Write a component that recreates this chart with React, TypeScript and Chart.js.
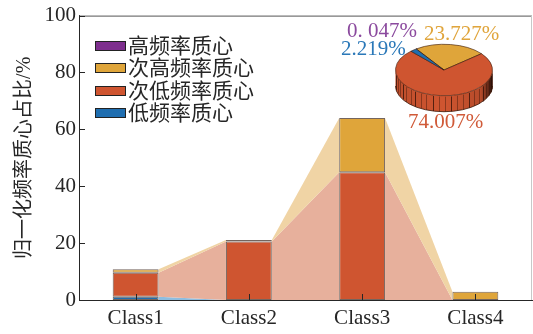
import React, { useEffect, useRef } from 'react';
import { Chart, registerables } from 'chart.js';

Chart.register(...registerables);

// Normalised centroid share per class, one array per frequency band (%)
const categories = ['Class1', 'Class2', 'Class3', 'Class4'];
const lowBand = [1.1, 0, 0, 0];
const subLowBand = [8.5, 20.6, 44.9, 0];
const subHighBand = [1.2, 0.5, 19.1, 2.9];
const highBand = [0.03, 0.01, 0.005, 0.002];
const bandNames = ['低频率质心', '次低频率质心', '次高频率质心', '高频率质心'];
const yTickValues = [0, 20, 40, 60, 80, 100];

// Overall share of each band (inset pie)
const pieNames = ['高频率质心', '次高频率质心', '次低频率质心', '低频率质心'];
const pieShares = [0.047, 23.727, 74.007, 2.219];
const pieTexts = ['0. 047%', '23.727%', '74.007%', '2.219%'];

const FONT = '"Liberation Serif", "Noto Sans CJK SC", serif';
const INK = '#262626';
const barColors = ['#1F6EB0', '#CF5530', '#DFA53A', '#7E2F8E'];
const bridgeColors = ['#8DBDE0', '#E7B09C', '#F0D4A5', '#C9A6D0'];
const pieColors = ['#7E2F8E', '#DFA53A', '#CF5530', '#1F6EB0'];
const pieTextColors = ['#8B4A9E', '#E0A53C', '#D05A38', '#2A78B8'];

const SQUASH = 0.53;
const DEPTH = 16;

// Shaded bands joining the same stack level of neighbouring bars
const bridgePlugin = {
  id: 'bridges',
  beforeDatasetsDraw(chart: any) {
    const ctx = chart.ctx;
    ctx.save();
    chart.data.datasets.forEach((_ds: any, di: number) => {
      const els = chart.getDatasetMeta(di).data;
      for (let i = 0; i < els.length - 1; i++) {
        const a = els[i].getProps(['x', 'y', 'base', 'width'], true);
        const b = els[i + 1].getProps(['x', 'y', 'base', 'width'], true);
        if (Math.abs(a.base - a.y) < 0.2 && Math.abs(b.base - b.y) < 0.2) continue;
        const ax = a.x + a.width / 2;
        const bx = b.x - b.width / 2;
        ctx.beginPath();
        ctx.moveTo(ax, a.y);
        ctx.lineTo(bx, b.y);
        ctx.lineTo(bx, b.base);
        ctx.lineTo(ax, a.base);
        ctx.closePath();
        ctx.fillStyle = bridgeColors[di];
        ctx.fill();
      }
    });
    ctx.restore();
  },
};

// Top/right box edges and inward tick marks
const framePlugin = {
  id: 'frame',
  afterDatasetsDraw(chart: any) {
    const { ctx, chartArea, scales } = chart;
    const { left, right, top, bottom } = chartArea;
    ctx.save();
    ctx.lineWidth = 1;
    ctx.strokeStyle = '#555555';
    ctx.beginPath();
    ctx.moveTo(left, top + 0.5);
    ctx.lineTo(right, top + 0.5);
    ctx.stroke();
    ctx.strokeStyle = '#c8c8c8';
    ctx.beginPath();
    ctx.moveTo(right - 0.5, top);
    ctx.lineTo(right - 0.5, bottom);
    ctx.stroke();
    ctx.strokeStyle = INK;
    ctx.beginPath();
    scales.x.ticks.forEach((_t: any, i: number) => {
      const px = Math.round(scales.x.getPixelForTick(i)) + 0.5;
      ctx.moveTo(px, bottom);
      ctx.lineTo(px, bottom - 6);
    });
    scales.y.ticks.forEach((t: any) => {
      const py = Math.round(scales.y.getPixelForValue(t.value)) + 0.5;
      ctx.moveTo(left, py);
      ctx.lineTo(left + 6, py);
    });
    ctx.stroke();
    ctx.restore();
  },
};

// Legend boxed inside the plot, highest band first
const insetLegendPlugin = {
  id: 'insetLegend',
  afterDraw(chart: any) {
    const { ctx, chartArea } = chart;
    const ds = chart.data.datasets;
    ctx.save();
    ctx.font = `21px ${FONT}`;
    ctx.textBaseline = 'middle';
    for (let row = 0; row < ds.length; row++) {
      const d = ds[ds.length - 1 - row];
      const cy = Math.round(chartArea.top + 30 + row * 22.5);
      const bx = chartArea.left + 16;
      ctx.fillStyle = d.backgroundColor;
      ctx.fillRect(bx, cy - 5, 31, 10);
      ctx.strokeStyle = '#222';
      ctx.lineWidth = 1;
      ctx.strokeRect(bx + 0.5, cy - 4.5, 30, 9);
      ctx.fillStyle = INK;
      ctx.fillText(d.label, bx + 33, cy + 1);
    }
    ctx.restore();
  },
};

function sliceFrontRanges(a: number, b: number): [number, number][] {
  const out: [number, number][] = [];
  for (const shift of [-2 * Math.PI, 0, 2 * Math.PI]) {
    const lo = Math.max(a + shift, 0);
    const hi = Math.min(b + shift, Math.PI);
    if (hi > lo) out.push([lo, hi]);
  }
  return out;
}

// Tilted pie: walls under the front half, then the squashed top face
const pie3dPlugin = {
  id: 'pie3d',
  beforeDatasetsDraw(chart: any) {
    const arcs = chart.getDatasetMeta(0).data;
    if (!arcs.length) return;
    const ctx = chart.ctx;
    const { x: cx, y: cy, outerRadius: r } = arcs[0].getProps(['x', 'y', 'outerRadius'], true);
    const ry = r * SQUASH;
    ctx.save();
    arcs.forEach((arc: any, i: number) => {
      const { startAngle, endAngle } = arc.getProps(['startAngle', 'endAngle'], true);
      sliceFrontRanges(startAngle, endAngle).forEach(([a0, a1]) => {
        const wall = () => {
          ctx.beginPath();
          ctx.ellipse(cx, cy, r, ry, 0, a0, a1, false);
          ctx.ellipse(cx, cy + DEPTH, r, ry, 0, a1, a0, true);
          ctx.closePath();
        };
        wall();
        ctx.fillStyle = pieColors[i];
        ctx.fill();
        const g = ctx.createLinearGradient(cx - r, 0, cx + r, 0);
        g.addColorStop(0, 'rgba(0,0,0,0.08)');
        g.addColorStop(0.5, 'rgba(0,0,0,0.0)');
        g.addColorStop(0.88, 'rgba(0,0,0,0.12)');
        g.addColorStop(0.97, 'rgba(0,0,0,0.6)');
        g.addColorStop(1, 'rgba(0,0,0,0.85)');
        wall();
        ctx.fillStyle = g;
        ctx.fill();
        // facet edges of the wall
        ctx.lineWidth = 1;
        let k = 0;
        for (let t = a0 + 0.12; t < a1 - 0.05; t += 0.13) {
          const px = Math.round(cx + r * Math.cos(t)) + 0.5;
          const py = cy + ry * Math.sin(t);
          ctx.strokeStyle = k % 3 === 1 ? 'rgba(45,15,5,0.75)' : 'rgba(45,15,5,0.4)';
          ctx.beginPath();
          ctx.moveTo(px, py + 1);
          ctx.lineTo(px, py + DEPTH);
          ctx.stroke();
          k++;
        }
        ctx.strokeStyle = 'rgba(60,25,10,0.8)';
        ctx.beginPath();
        ctx.ellipse(cx, cy + DEPTH, r, ry, 0, a0, a1, false);
        ctx.stroke();
      });
    });
    ctx.restore();
    ctx.save();
    ctx.translate(0, cy);
    ctx.scale(1, SQUASH);
    ctx.translate(0, -cy);
  },
  afterDatasetsDraw(chart: any) {
    chart.ctx.restore();
  },
  afterDraw(chart: any) {
    const arcs = chart.getDatasetMeta(0).data;
    if (!arcs.length) return;
    const { x: cx, y: cy } = arcs[0].getProps(['x', 'y'], true);
    const offsets = [[-97, -33], [-20, -30], [-36, 58], [-103, -15]];
    const ctx = chart.ctx;
    ctx.save();
    ctx.font = `21px ${FONT}`;
    ctx.textBaseline = 'alphabetic';
    pieTexts.forEach((txt, i) => {
      ctx.fillStyle = pieTextColors[i];
      ctx.fillText(txt, cx + offsets[i][0], cy + offsets[i][1]);
    });
    ctx.restore();
  },
};

export default function App() {
  const mainRef = useRef<HTMLCanvasElement>(null);
  const pieRef = useRef<HTMLCanvasElement>(null);

  useEffect(() => {
    document.body.style.margin = '0';
    const bandData = [lowBand, subLowBand, subHighBand, highBand];
    const main = new Chart(mainRef.current as HTMLCanvasElement, {
      type: 'bar',
      data: {
        labels: categories,
        datasets: bandData.map((data, i) => ({
          label: bandNames[i],
          data,
          backgroundColor: barColors[i],
          borderColor: 'rgba(70,50,40,0.75)',
          borderWidth: 1,
          borderSkipped: false,
          barPercentage: 0.405,
          categoryPercentage: 1,
        })),
      },
      options: {
        animation: false,
        responsive: false,
        events: [],
        layout: { padding: { top: 13, right: 1, left: 0, bottom: 0 } },
        plugins: { legend: { display: false }, tooltip: { enabled: false } },
        scales: {
          x: {
            stacked: true,
            grid: { display: false, drawTicks: false },
            border: { color: INK, width: 1 },
            ticks: { color: INK, font: { family: FONT, size: 21 }, padding: 6 },
            afterFit: (s: any) => { s.height = 34; },
          },
          y: {
            stacked: true,
            min: 0,
            max: 100,
            grid: { display: false, drawTicks: false },
            border: { color: INK, width: 1 },
            ticks: { color: INK, font: { family: FONT, size: 21 }, padding: 3 },
            afterBuildTicks: (s: any) => { s.ticks = yTickValues.map((v) => ({ value: v })); },
            afterFit: (s: any) => { s.width = 79; },
            title: {
              display: true,
              text: '归一化频率质心占比/%',
              color: INK,
              font: { family: FONT, size: 20 },
              padding: { top: 13, bottom: 0 },
            },
          },
        },
      } as any,
      plugins: [bridgePlugin, framePlugin, insetLegendPlugin],
    });

    const pie = new Chart(pieRef.current as HTMLCanvasElement, {
      type: 'pie',
      data: {
        labels: pieNames,
        datasets: [{
          data: pieShares,
          backgroundColor: pieColors,
          borderColor: 'rgba(60,25,10,0.8)',
          borderWidth: 1,
          clip: false,
        } as any],
      },
      options: {
        animation: false,
        responsive: false,
        events: [],
        rotation: -35,
        layout: { padding: { left: 65, right: 40, top: 6, bottom: 21 } },
        plugins: { legend: { display: false }, tooltip: { enabled: false } },
      } as any,
      plugins: [pie3dPlugin],
    });

    return () => {
      main.destroy();
      pie.destroy();
    };
  }, []);

  return (
    <div style={{ position: 'fixed', left: 0, top: 0, width: 533, height: 334, background: '#fff' }}>
      <canvas ref={mainRef} width={533} height={334} style={{ position: 'absolute', left: 0, top: 0 }} />
      <canvas ref={pieRef} width={203} height={125} style={{ position: 'absolute', left: 330, top: 15 }} />
    </div>
  );
}
